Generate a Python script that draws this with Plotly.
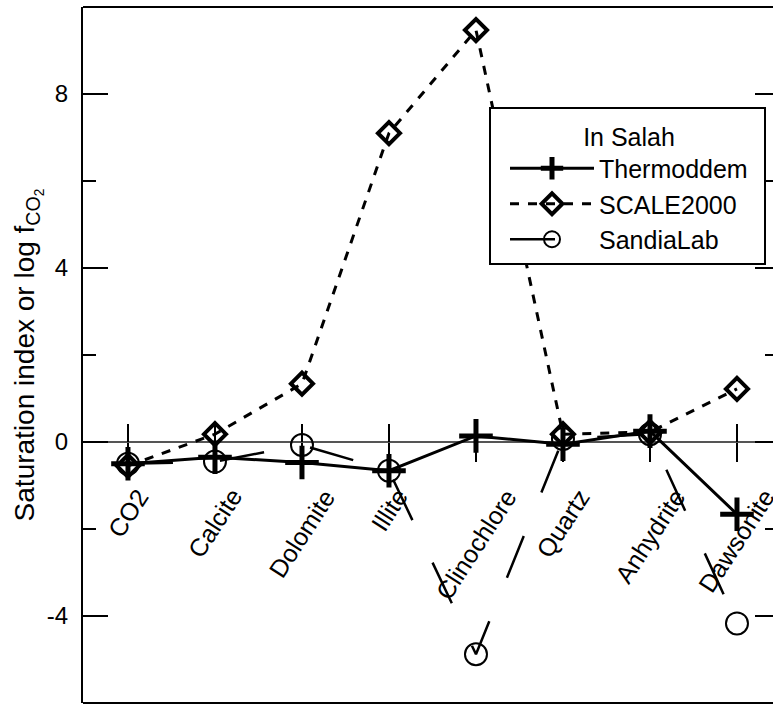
import plotly.graph_objects as go

categories = ["CO2", "Calcite", "Dolomite", "Illite", "Clinochlore", "Quartz", "Anhydrite", "Dawsonite"]
thermoddem = [-0.50, -0.35, -0.47, -0.66, 0.14, -0.05, 0.25, -1.66]
scale2000 = [-0.55, 0.18, 1.34, 7.10, 9.47, 0.18, 0.23, 1.22]
sandialab = [-0.50, -0.45, -0.07, -0.66, -4.88, 0.07, 0.18, -4.17]
y_major = [8, 4, 0, -4]
y_major_text = ["8", "4", "0", "-4"]
y_minor = [6, 2, -2]

FONT = "Liberation Sans, Arial, sans-serif"

fig = go.Figure()
fig.add_trace(go.Scatter(
    x=categories, y=thermoddem, name="Thermoddem", mode="lines+markers",
    line=dict(color="black", width=3),
    marker=dict(symbol="cross-thin", size=24, line=dict(color="black", width=5)),
))
fig.add_trace(go.Scatter(
    x=categories, y=scale2000, name="SCALE2000", mode="lines+markers",
    line=dict(color="black", width=3, dash="9px,9px"),
    marker=dict(symbol="diamond-open", size=17, color="black", line=dict(color="black", width=4)),
))
fig.add_trace(go.Scatter(
    x=categories, y=sandialab, name="SandiaLab", mode="lines+markers",
    line=dict(color="black", width=2.5, dash="45px,47px"),
    marker=dict(symbol="circle-open", size=22, color="black", line=dict(color="black", width=2)),
))
# helper trace so the overlay axes (cross ticks / right ticks) are drawn
fig.add_trace(go.Scatter(
    x=categories, y=thermoddem, xaxis="x2", yaxis="y2", mode="markers",
    marker=dict(opacity=0), showlegend=False, hoverinfo="skip",
))

W, H = 773, 706
ML, MR, MT, MB = 83, 0, 7, 3
PW, PH = W - ML - MR, H - MT - MB

def px_x(p):
    return (p - ML) / PW

def px_y(p):
    return (H - MB - p) / PH

xrange = [-0.517, 7.414]
yrange = [-6.0, 10.0]
zero_pos = (0 - yrange[0]) / (yrange[1] - yrange[0])

# category labels: rotated, box centred under each tick
label_annotations = [
    dict(x=c, y=0, xref="x", yref="y", text=c, showarrow=False,
         textangle=-57, xanchor="center", yanchor="top", yshift=-39,
         font=dict(size=25, family=FONT, color="black"))
    for c in categories
]

fig.update_layout(
    width=W, height=H,
    margin=dict(l=ML, r=MR, t=MT, b=MB, autoexpand=False),
    paper_bgcolor="white", plot_bgcolor="white",
    font=dict(family=FONT, size=25, color="black"),
    xaxis=dict(
        type="category", categoryarray=categories, range=xrange,
        anchor="free", position=zero_pos, automargin=False,
        showline=False, showgrid=False, zeroline=False,
        ticks="outside", ticklen=19, tickwidth=1.5, tickcolor="black",
        showticklabels=False,
    ),
    xaxis2=dict(
        type="category", categoryarray=categories, range=xrange,
        overlaying="x", anchor="free", position=zero_pos, side="top",
        showline=False, showgrid=False, zeroline=False, automargin=False,
        ticks="outside", ticklen=18, tickwidth=1.5, tickcolor="black",
        showticklabels=False,
    ),
    yaxis=dict(
        range=yrange, tickvals=y_major, ticktext=y_major_text, automargin=False,
        ticks="inside", ticklen=25, tickwidth=2, tickcolor="black",
        minor=dict(tickvals=y_minor, ticks="inside", ticklen=13, tickwidth=2, tickcolor="black"),
        showline=True, linewidth=2, linecolor="black",
        showgrid=False,
        zeroline=True, zerolinecolor="#555555", zerolinewidth=2,
        tickfont=dict(size=24, family=FONT),
        ticklabelstandoff=8,
        title=dict(text="Saturation index or log f<sub>CO<sub>2</sub></sub>",
                   font=dict(size=28, family=FONT), standoff=4),
    ),
    yaxis2=dict(
        range=yrange, tickvals=y_major, overlaying="y", side="right", anchor="x",
        automargin=False,
        ticks="inside", ticklen=18, tickwidth=2, tickcolor="black",
        minor=dict(tickvals=y_minor, ticks="inside", ticklen=8, tickwidth=2, tickcolor="black"),
        showline=False, showgrid=False, zeroline=False, showticklabels=False,
    ),
    legend=dict(
        x=px_x(505), y=px_y(113), xanchor="left", yanchor="top",
        bgcolor="rgba(0,0,0,0)", borderwidth=0,
        font=dict(size=25, family=FONT),
        title=dict(text="In Salah", side="top center", font=dict(size=25, family=FONT)),
        itemwidth=84,
    ),
    annotations=label_annotations,
    shapes=[
        dict(type="line", xref="paper", yref="paper", x0=0, x1=1, y0=1, y1=1,
             line=dict(color="black", width=2)),
        dict(type="line", xref="paper", yref="paper", x0=0, x1=1, y0=0, y1=0,
             line=dict(color="black", width=2)),
        # legend frame (white box that hides the lines behind the legend)
        dict(type="rect", xref="paper", yref="paper", layer="above",
             x0=px_x(490), x1=px_x(765), y0=px_y(264), y1=px_y(108),
             fillcolor="white", line=dict(color="black", width=2)),
    ],
    showlegend=True,
)

fig.write_html(
    "out.html",
    config={"displayModeBar": False},
    post_script="document.body.style.margin='0';document.body.style.overflow='hidden';",
)
